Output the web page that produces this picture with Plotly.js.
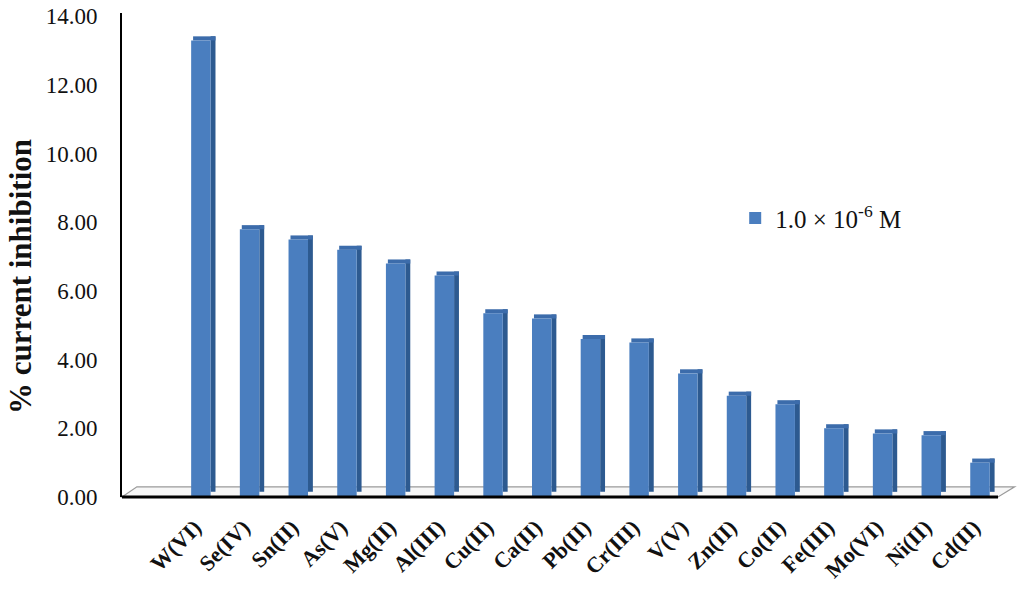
<!DOCTYPE html>
<html><head><meta charset="utf-8">
<script src="https://cdn.plot.ly/plotly-3.0.1.min.js"></script>
<style>html,body{margin:0;padding:0;background:#fff;}#chart{width:1024px;height:596px;}</style>
</head><body><div id="chart"></div>
<script>
const ions = ['W(VI)','Se(IV)','Sn(II)','As(V)','Mg(II)','Al(III)','Cu(II)','Ca(II)','Pb(II)','Cr(III)','V(V)','Zn(II)','Co(II)','Fe(III)','Mo(VI)','Ni(II)','Cd(II)'];
const inhibition = [13.3, 7.8, 7.5, 7.2, 6.8, 6.45, 5.35, 5.2, 4.6, 4.5, 3.6, 2.95, 2.7, 2.0, 1.85, 1.8, 1.0];
const seriesName = '1.0 × 10<sup>-6</sup> M';
const yTitle = '% current inhibition';
const yTicks = [0, 2, 4, 6, 8, 10, 12, 14];

const xIdx = ions.map((_, i) => i);
const depth = 0.12;
const serif = 'Liberation Serif, Times New Roman, serif';

const sideFace = {type:'bar', x:xIdx, y:inhibition.map(v => v + depth - 0.15), base:inhibition.map(() => 0.15),
  offset:0.2, width:0.1, marker:{color:'#2d5a90', line:{width:0}}, showlegend:false, hoverinfo:'skip'};
const topFace = {type:'bar', x:xIdx, y:inhibition.map(() => depth), base:inhibition,
  offset:-0.16, width:0.46, marker:{color:'#3c6cab', line:{width:0}}, showlegend:false, hoverinfo:'skip'};
const frontFace = {type:'bar', x:xIdx, y:inhibition, name:seriesName,
  offset:-0.2, width:0.4, marker:{color:'#4a7ebf', line:{width:0}}, showlegend:true};

const layout = {
  width:1024, height:596,
  margin:{l:122, r:26, t:13, b:99},
  paper_bgcolor:'#fff', plot_bgcolor:'#fff',
  barmode:'overlay',
  xaxis:{range:[-1.62, 16.37], tickvals:xIdx, ticktext:ions, tickangle:-45,
    tickfont:{family:serif, size:22, color:'#111', weight:'bold'},
    showgrid:false, zeroline:false, showline:false,
    ticks:'outside', ticklen:8, tickcolor:'rgba(0,0,0,0)', ticklabelshift:-6, fixedrange:true},
  yaxis:{range:[0, 14.1], tickvals:yTicks, tickformat:'.2f',
    tickfont:{family:serif, size:23, color:'#111'},
    showgrid:false, zeroline:false, showline:true, linecolor:'#000', linewidth:2,
    ticks:'outside', ticklen:18, tickcolor:'rgba(0,0,0,0)'},
  legend:{x:0.7, y:0.576, xanchor:'left', yanchor:'middle', bgcolor:'rgba(0,0,0,0)',
    font:{family:serif, size:25, color:'#111'}},
  annotations:[
    {text:'<b>' + yTitle + '</b>', xref:'paper', yref:'paper', x:-0.115, y:0.455, xanchor:'center', yanchor:'middle',
      textangle:-90, showarrow:false, font:{family:serif, size:31, color:'#111'}}
  ],
  shapes:[
    {type:'path', xref:'paper', yref:'paper', path:'M 0 0 L 0.017 0.021 L 1.019 0.021 L 1.0 0 Z',
      fillcolor:'#f7f7f7', line:{color:'#9a9a9a', width:1.2}, layer:'below'},
    {type:'line', xref:'paper', yref:'paper', x0:0, x1:1, y0:0, y1:0, line:{color:'#000', width:3}}
  ]
};
Plotly.newPlot('chart', [sideFace, topFace, frontFace], layout, {displayModeBar:false, staticPlot:true});
</script></body></html>
